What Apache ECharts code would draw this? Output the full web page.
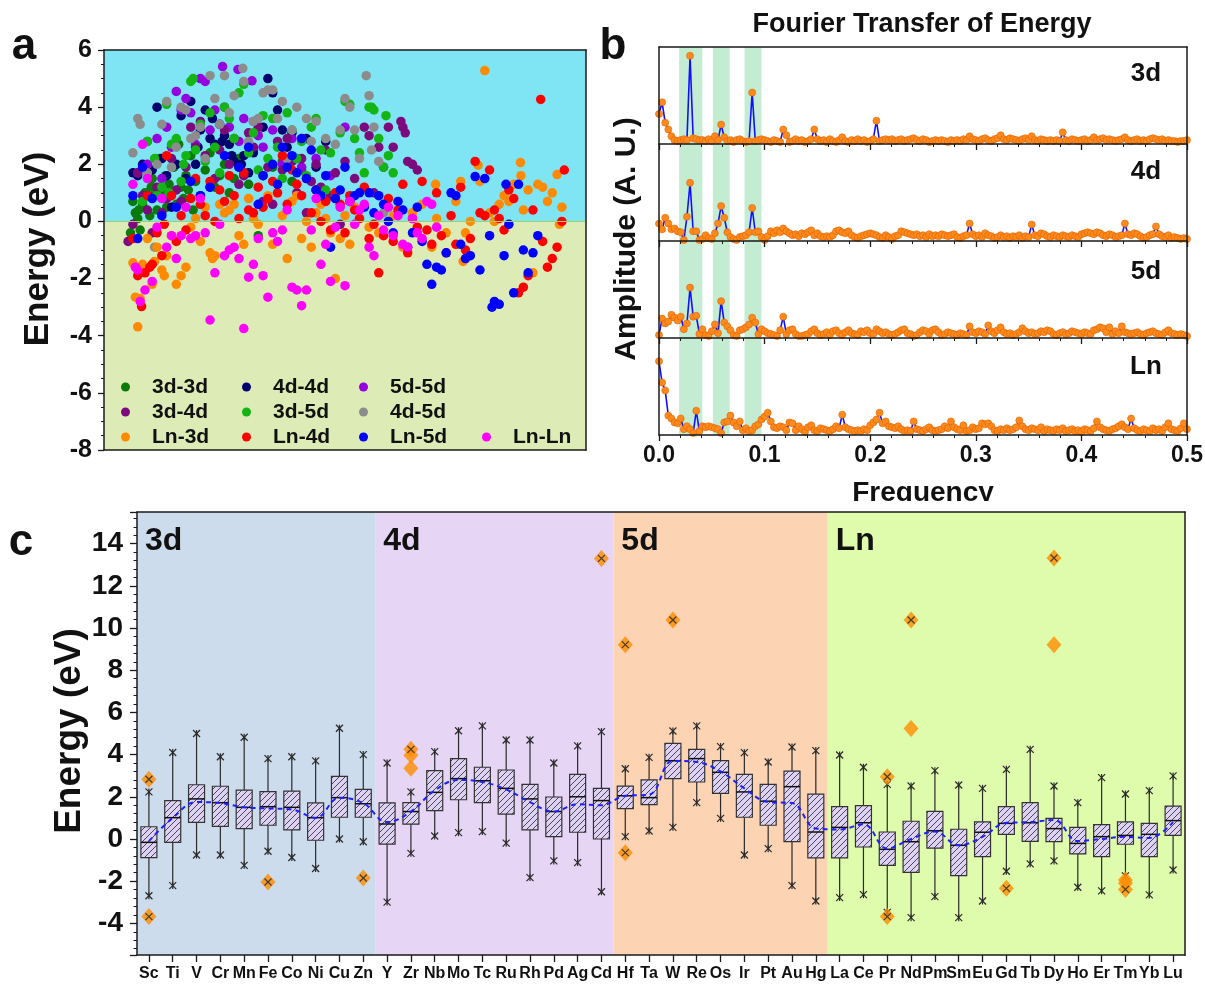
<!DOCTYPE html>
<html><head><meta charset="utf-8">
<script src="https://cdn.jsdelivr.net/npm/echarts@6/dist/echarts.min.js"></script>
<style>html,body{margin:0;padding:0;background:#fff}#c{width:1205px;height:987px}</style>
</head><body><div id="c"></div><script>
// ---------------- Panel a: scatter data (x = position index 0..100, y = energy eV) ----------------
const scatterNames = ['3d-3d','4d-4d','5d-5d','3d-4d','3d-5d','4d-5d','Ln-3d','Ln-4d','Ln-5d','Ln-Ln'];
const s3d3d = [[5.5,-0.4],[6,0.7],[6.5,0.3],[7,0.1],[7.5,-0.3],[8,0.6],[8.5,1.0],[9,2.8],[9.5,0.2],[10,1.5],[10.5,0.9],[11,0.4],[11.5,2.2],[12,1.1],[12.5,0.8],[13,0.5],[13.5,1.3],[14,1.0],[14.5,1.9],[15,0.6],[15.5,2.7],[16,1.2],[16.5,0.8],[17,1.6],[17.5,1.1],[18,2.3],[18.5,0.4],[19,1.4],[20,0.9],[21,1.8],[22,2.4],[23,1.2],[24,1.6],[25,2.0],[26,1.0],[27,1.5],[28,2.2],[29,1.7],[30,1.3],[31,2.5],[32,-0.5],[33,1.6],[35,1.9],[37,2.1],[39,1.4],[41,1.8],[44,1.1],[7.2,0.4],[9.8,1.2],[12.8,1.6]];
const s4d4d = [[6,1.7],[7,1.6],[8,2.0],[9,0.9],[10,1.8],[11,4.0],[12,2.2],[13,1.6],[14,0.5],[15,2.0],[16,3.7],[17,1.5],[18,4.2],[19,2.0],[20,3.2],[21,3.9],[22,2.9],[23,2.7],[24,3.4],[25,3.0],[26,2.7],[27,2.1],[28,1.9],[29,2.3],[30,1.7],[31,2.4],[33,3.3],[34,5.0],[35,4.5],[36,3.9],[37,3.2],[38,2.6],[39,3.1],[40,2.2],[42,2.9],[44,1.9],[46,2.8],[19.5,2.6],[22.5,3.6],[26.5,2.3],[28.5,2.0],[24.5,2.8]];
const s5d5d = [[7,1.7],[9,2.0],[11,2.9],[12,1.5],[13,3.3],[14,2.6],[15,4.55],[16,3.9],[17,4.3],[18,3.8],[19,2.7],[20,5.0],[21,4.9],[22,3.2],[23,3.9],[24.6,5.42],[25,4.0],[26,3.3],[27.8,5.32],[28,2.8],[29,3.6],[30.7,4.92],[31,3.5],[32,3.0],[33,2.6],[35,3.2],[37,2.0],[39,2.9],[41,1.9],[44,2.2],[47,1.6],[50,3.3]];
const s3d4d = [[5,-0.7],[6,-0.1],[7,1.7],[8,0.9],[9,0.4],[10,-0.4],[11,1.2],[12,0.3],[13,0.8],[14,2.2],[15,1.1],[16,0.7],[17,1.9],[18,3.3],[19,2.6],[20,3.5],[21,2.3],[22,1.2],[23,1.5],[24,2.5],[25,3.2],[26,2.0],[27,2.9],[28,1.3],[29,1.6],[30,3.1],[31,2.6],[32,3.3],[33,0.7],[34,1.9],[35,0.6],[36,2.8],[37,1.8],[38,2.9],[39,2.1],[40,1.0],[41,2.2],[42,0.3],[43,1.4],[44,2.0],[45,1.2],[46,2.5],[47,0.9],[48,1.7],[49,-0.1],[50,2.1],[52,1.5],[54,3.3],[55,3.0],[56,1.0],[57,2.6],[58,1.9],[59,3.3],[60,2.6],[61.6,3.5],[62,3.3],[62.5,3.1],[63,2.1],[64,2.0],[65,1.8]];
const s3d5d = [[8,0.7],[9,2.8],[10.5,2.2],[12,1.2],[13,4.1],[14,2.7],[15,2.9],[16,1.4],[17,2.3],[18,4.9],[18.5,5.0],[19,2.5],[20,3.4],[21,2.1],[22,3.8],[23,2.6],[24,1.7],[25,4.0],[26,3.6],[27,2.9],[28,4.5],[29,4.8],[30,2.4],[31,3.1],[32,1.8],[33,3.7],[34,2.2],[35,3.6],[36,2.6],[37,1.5],[38,3.8],[39,3.2],[40,2.2],[41,2.8],[42,1.6],[43,3.3],[44,3.6],[45,2.5],[46,1.1],[47,2.4],[48,0.9],[49,3.1],[50,4.2],[51,4.1],[52,2.9],[53,2.4],[54,1.7],[55,4.0],[55.5,4.0],[56,3.9],[57,2.9],[58,1.9],[58.5,3.7],[59,2.3],[60,1.7],[11,0.9],[13.5,1.0],[16.5,2.0]];
const s4d5d = [[6,2.4],[7,3.6],[7.5,3.4],[9,1.7],[10.5,-0.9],[11,2.0],[12,3.4],[13,4.2],[14,1.9],[15,2.6],[16,4.0],[17,3.9],[18,2.9],[19,3.0],[20,3.3],[21,2.2],[22,5.1],[23,4.3],[24,3.4],[25,5.1],[26,3.8],[27,4.4],[28.8,5.36],[29,4.9],[30,2.8],[31,3.5],[32,3.6],[33,4.5],[34,4.6],[35,4.6],[36,3.6],[37,4.2],[38,2.2],[39,3.2],[40,4.0],[41,2.9],[42,3.6],[43,2.8],[44,3.5],[46,2.9],[48,2.7],[49,3.2],[50,4.3],[51,4.0],[52,3.2],[53,2.2],[54.4,5.1],[55,4.4],[55.5,2.5],[56,3.3],[57,2.1],[58,0.3]];
const sLn3d = [[6,-1.45],[6.5,-2.65],[7,-3.69],[7.5,-2.7],[8,-1.5],[9,-0.6],[10,-2.2],[10.5,-1.4],[11,-0.9],[12,-1.7],[12.5,-1.9],[13,-1.2],[14,-0.5],[15,-2.2],[16,-1.9],[17,-1.6],[18,-0.2],[19,0.1],[20,-0.7],[21,0.5],[22,-1.1],[22.5,-1.3],[23,-1.2],[24,0.6],[25,0.3],[26,0.4],[27,0.6],[28,-0.5],[29,-0.8],[30,0.8],[31,0.1],[32,-0.1],[33,0.5],[34,0.9],[35,-0.8],[36,1.0],[37,0.2],[38,-1.3],[39,0.7],[40,0.9],[41,-0.6],[42,0.0],[43,-0.9],[44,0.3],[45,0.6],[46,0.1],[47,-0.4],[48,-2.0],[49,-0.6],[50,0.2],[51,-0.8],[52,0.5],[53,0.1],[55,-0.2],[57,-0.4],[60,0.2],[62,-0.9],[64,0.3],[66,0.6],[68,-0.9],[68.8,1.3],[69,0.1],[71,-0.4],[73,0.7],[74,1.4],[74.5,-1.4],[75,-0.4],[76,0.0],[77.6,1.97],[78,1.4],[79,5.28],[80,0.3],[81,0.0],[82,0.6],[83,0.9],[84,0.7],[85,1.3],[86.4,2.06],[86.5,1.6],[87,0.4],[88,1.1],[89,-1.8],[90,1.3],[91,1.2],[92,0.7],[93,1.0],[94,1.64],[94.5,-0.1],[95,0.5]];
const sLn4d = [[6,-0.6],[7,-1.9],[7.8,-2.98],[8.5,-1.8],[9,0.9],[9.5,-1.6],[10,-1.5],[11,-0.4],[12,-1.2],[12.5,-0.1],[13,2.3],[14,0.9],[15,-0.7],[16,0.2],[17,-0.3],[18,0.8],[19,1.5],[20,0.6],[21,0.2],[22,1.4],[23,0.0],[24,1.1],[25,0.7],[26,1.6],[27,0.9],[28,0.1],[29,1.7],[30,0.4],[31,0.3],[32,1.2],[33,0.5],[34,0.8],[35,1.4],[36,1.0],[37,2.3],[38,0.6],[39,1.8],[40,1.3],[41,0.9],[42,1.5],[43,0.3],[44,1.1],[45,0.0],[46,0.7],[47,-0.3],[48,1.0],[49,0.6],[50,-0.4],[51,0.9],[52,0.4],[53,0.1],[54,1.2],[55,-0.6],[56,-0.1],[57,-1.8],[58,-0.5],[59,0.8],[60,-0.7],[61,0.4],[62,1.3],[63,-1.1],[64,0.1],[65,-0.2],[66,1.4],[67,-0.3],[68,-0.8],[69,1.0],[70,-0.5],[71,-1.1],[72,0.2],[73,-0.8],[74,1.2],[75,-1.0],[76,-0.6],[77,2.1],[78,0.3],[79,0.2],[80,1.8],[81,0.4],[82,0.1],[83,-0.3],[84,1.1],[85,0.8],[86,-2.5],[87,-2.3],[88,-1.9],[89,0.4],[90.6,4.27],[91,-0.7],[92,-1.6],[93,-1.3],[94,-0.9],[95,0.0],[95.5,1.8]];
const sLn5d = [[6,0.9],[7,-0.6],[8,1.9],[10,0.8],[12,0.2],[15,0.5],[18,1.4],[20,0.9],[22,1.2],[25,2.3],[28,1.9],[30,2.6],[32,0.6],[33,1.6],[35,2.0],[36,1.3],[37,2.6],[38,1.9],[39,2.3],[40,1.7],[41,2.9],[42,1.5],[43,2.5],[44,1.1],[45,0.9],[46,1.6],[47,-0.9],[48,0.8],[49,1.1],[50,1.9],[51,0.7],[52,0.9],[53,1.0],[54,0.5],[55,1.0],[56,0.3],[57,0.9],[58,0.6],[59,0.0],[60,-0.4],[61,0.7],[62,0.4],[63,-0.9],[64,-0.4],[65,0.5],[66,-0.7],[67,-1.5],[68,-2.2],[69,-1.6],[70,-1.7],[71,-1.1],[72,1.0],[73,0.9],[74,-0.8],[75,-1.3],[76,-1.2],[77,1.57],[78,-1.7],[79,1.5],[80,-0.5],[80.5,-3.0],[81,-2.8],[82,-2.9],[83,-1.2],[83.4,1.3],[84,-0.1],[85,-2.5],[86,1.3],[87,-1.0],[88,-1.8],[89,-1.1],[90,-0.5]];
const sLnLn = [[6,1.3],[6.5,-1.6],[7,-1.7],[7.5,-2.8],[8,2.7],[8.5,-2.4],[9,1.5],[10,-2.1],[11,-0.2],[12,0.8],[13,-0.9],[14,-0.5],[15,-1.3],[16,-0.5],[17,0.5],[18,-0.6],[19,-0.5],[20,0.8],[21,-0.4],[22,-3.45],[23,-1.8],[24,-0.1],[25,-1.2],[26,-1.0],[27,-0.9],[28,-1.3],[29,-3.75],[30,-1.95],[31,-1.5],[32,-0.6],[33,-1.9],[34,-2.65],[35,-0.4],[36,-0.7],[37,-0.3],[38,0.4],[39,-2.3],[40,-2.4],[41,-2.95],[42,-2.4],[43,-0.3],[44,0.8],[45,-1.5],[46,-0.8],[47,-2.1],[48,-0.2],[49,0.5],[50,-2.25],[51,0.7],[52,-0.1],[53,0.4],[54,0.6],[55,-0.9],[56,-1.2],[57,0.2],[58,-0.3],[59,0.5],[60,-0.5],[61,0.2],[62,-0.8],[63,-0.9],[64,0.1],[65,-0.4],[66,-0.6],[67,0.7],[68,0.6],[69,-0.2]];
const scatterData = [s3d3d,s4d4d,s5d5d,s3d4d,s3d5d,s4d5d,sLn3d,sLn4d,sLn5d,sLnLn];

// ---------------- Panel b: Fourier amplitudes (A.U., % of panel height), frequency step 1/340 ----------------
const FREQ_STEP = 1/340;
const bLabels = ['3d','4d','5d','Ln'];
const bands = [[0.019,0.041],[0.051,0.067],[0.081,0.097]];
const amp3d = [31,43,22,15,8,4,3,4,5,4, 91,6,5,4,4,3,5,3,8,4, 20,7,3,4,2,4,5,3,2,3, 53,3,4,5,4,3,2,4,3,2, 15,9,2,3,5,3,4,2,3,5, 15,5,3,4,2,5,3,2,4,7, 3,2,4,3,5,3,4,2,3,5, 24,3,4,5,4,5,3,4,5,3, 4,5,6,4,3,5,4,2,3,4, 3,4,3,2,4,3,4,3,5,4, 8,5,4,3,5,6,4,3,5,6, 9,5,4,6,5,4,3,5,6,4, 8,4,3,5,4,3,4,3,4,3, 12,4,3,5,4,3,4,5,3,4, 7,4,5,6,4,5,4,3,4,5, 7,4,3,4,5,3,4,3,5,6, 5,4,5,3,4,3,3,2,3,3, 4];
const amp4d = [18,12,24,18,12,13,10,9,1,25, 60,10,10,1,2,6,3,2,8,18, 36,24,9,4,2,1,4,5,6,9, 34,9,10,4,1,5,10,8,11,9, 13,10,8,6,7,5,8,7,9,11, 6,8,5,4,5,4,6,10,11,9, 8,10,6,4,3,5,6,7,8,7, 6,4,3,6,4,2,5,6,10,9, 8,7,6,7,5,6,4,7,5,6, 5,7,6,5,6,7,4,3,5,6, 18,7,5,6,4,8,6,5,3,4, 6,4,5,3,5,4,6,3,5,4, 17,6,5,8,7,5,4,6,5,4, 6,5,4,6,5,4,7,8,9,8, 7,9,8,6,5,7,6,4,5,6, 18,7,6,8,7,5,3,4,6,7, 15,7,5,4,6,3,4,3,2,3, 2];
const amp5d = [3,20,15,17,24,21,18,22,9,15, 52,22,23,4,9,3,2,7,14,5, 38,16,12,8,3,2,8,9,11,14, 21,16,4,9,7,5,4,3,2,8, 22,4,8,9,4,2,2,3,4,7, 9,5,3,4,6,3,7,8,5,3, 6,8,5,4,3,7,6,8,5,4, 9,7,5,6,4,3,4,6,8,9, 5,4,2,3,6,8,7,4,8,9, 6,3,4,6,5,4,3,5,4,3, 12,6,5,7,6,4,13,7,5,8, 11,6,4,5,3,4,6,10,7,5, 6,4,5,7,6,8,7,4,3,5, 6,4,5,7,6,5,4,6,5,4, 8,9,11,10,6,11,4,7,5,12, 6,5,4,5,6,4,3,5,6,7, 5,4,3,6,8,5,4,3,4,3, 2];
const ampLn = [76,54,46,20,17,13,12,17,6,9, 6,2,25,4,9,8,9,8,7,6, 2,13,14,20,13,9,14,5,7,4, 5,9,11,16,19,23,14,8,7,9, 8,5,13,12,5,9,6,3,8,10, 5,4,7,6,5,4,6,9,7,21, 8,6,5,4,5,4,6,5,10,13, 16,23,12,14,9,8,7,9,6,4, 5,4,14,6,5,4,6,8,5,4, 5,6,9,7,14,8,6,5,10,4, 5,8,6,7,12,11,12,9,5,4, 6,5,7,5,6,8,15,9,6,5, 7,6,5,8,4,6,5,4,6,5, 7,4,5,6,4,5,3,6,5,4, 7,14,8,6,5,4,6,7,9,11, 8,6,17,7,5,4,6,5,4,7, 5,6,4,8,12,6,5,4,7,12, 6];
const ampArrays = [amp3d, amp4d, amp5d, ampLn];

// ---------------- Panel c: box statistics per element ----------------
const els = ['Sc','Ti','V','Cr','Mn','Fe','Co','Ni','Cu','Zn','Y','Zr','Nb','Mo','Tc','Ru','Rh','Pd','Ag','Cd','Hf','Ta','W','Re','Os','Ir','Pt','Au','Hg','La','Ce','Pr','Nd','Pm','Sm','Eu','Gd','Tb','Dy','Ho','Er','Tm','Yb','Lu'];
const groupNames = ['3d','4d','5d','Ln'];
const groupSizes = [10,10,9,15];
const boxMin = [-2.69,-2.21,-0.76,-0.76,-1.25,-0.58,-0.88,-1.4,0.0,-0.13, -2.99,-0.68,0.14,0.3,0.35,-0.2,-1.83,-1.04,-1.12,-2.5, 0.11,0.38,0.55,1.72,0.98,-0.76,-0.46,-2.21,-2.94, -2.78,-2.64,-3.48,-3.73,-2.73,-3.73,-2.94,-1.53,-1.18,-1.04,-2.29,-2.46,-1.75,-2.65,-1.47];
const boxQ1 = [-0.88,-0.16,0.79,0.6,0.49,0.65,0.43,-0.06,1.03,1.03, -0.24,0.7,1.34,1.86,1.72,1.18,0.43,0.11,0.32,0.0, 1.44,1.63,2.86,2.7,2.16,1.03,0.65,-0.13,-0.9, -0.9,-0.38,-1.25,-1.58,-0.43,-1.74,-0.84,0.22,-0.11,-0.13,-0.71,-0.84,-0.25,-0.84,0.17];
const boxMed = [-0.16,1.01,1.9,1.72,1.5,1.53,1.5,1.01,1.96,1.67, 0.71,1.3,2.21,2.86,2.76,2.4,1.9,1.3,2.0,1.82, 2.05,1.96,3.71,3.81,3.16,2.23,1.79,2.48,0.33, 0.55,0.77,-0.49,-0.13,0.39,-0.3,0.32,0.74,0.77,0.49,-0.21,0.11,0.17,0.22,0.87];
const boxQ3 = [0.58,1.82,2.57,2.5,2.32,2.24,2.27,1.71,2.97,2.35, 1.71,1.72,3.24,3.81,3.4,3.27,2.59,1.99,3.06,2.4, 2.51,2.8,4.53,4.25,3.71,3.06,2.59,3.22,2.13, 1.53,1.58,0.33,0.84,1.31,0.46,0.81,1.53,1.72,0.98,0.55,0.68,0.81,0.74,1.56];
const boxMax = [2.23,4.1,5.0,3.9,4.82,3.81,3.9,3.7,5.25,4.0, 3.6,2.23,4.14,5.13,5.36,4.69,4.69,3.6,4.41,5.09, 3.33,3.87,5.12,5.36,4.38,4.09,3.65,4.36,4.19, 3.98,3.4,2.59,2.51,3.24,2.56,2.4,3.3,4.25,2.51,1.72,2.91,2.13,2.29,2.99];
const boxMean = [-0.1,1.0,1.75,1.7,1.5,1.45,1.4,1.0,1.95,1.7, 0.8,1.3,2.3,2.8,2.7,2.35,1.75,1.3,1.65,1.6, 2.05,2.1,3.7,3.65,3.2,2.4,1.75,1.7,0.5, 0.45,0.7,-0.45,0.0,0.35,-0.3,0.1,0.77,0.8,0.9,-0.1,0.0,0.1,0.05,0.8];
// [element, energy, has cross mark]
const outliers = [['Sc',2.83,1],['Sc',-3.68,1],['Fe',-2.04,1],['Zn',-1.85,1],['Zr',4.25,1],['Zr',3.97,0],['Zr',3.35,0],['Cd',13.3,1],['Hf',9.21,1],['Hf',-0.65,1],['W',10.38,1],['Pr',2.95,1],['Pr',-3.68,1],['Nd',10.38,1],['Nd',5.24,0],['Gd',-2.34,1],['Dy',13.32,1],['Dy',9.21,0],['Tm',-1.94,0],['Tm',-2.1,0],['Tm',-2.39,1]];

// ---------------- Styles ----------------
const FONT = 'Liberation Sans, Arial, sans-serif';
const scatterColors = ['#0b7a0b','#00006e','#9400e0','#7d0a7d','#14b414','#8c8c8c','#ff8a00','#ff0000','#0000ff','#ff00ff'];
const regionColors = ['#ccdcec','#e6d5f5','#fcd4b4','#dffcad'];
const legendPos = [[121,376],[242,376],[359,376],[121,401],[242,401],[359,401],[121,426],[242,426],[359,426],[482,426]];

function hatch(){
  const c = document.createElement('canvas'); c.width = 6; c.height = 6;
  const g = c.getContext('2d');
  g.fillStyle = '#ddd3f1'; g.fillRect(0,0,6,6);
  g.strokeStyle = '#4a4262'; g.lineWidth = 1;
  g.beginPath(); g.moveTo(0,6); g.lineTo(6,0); g.moveTo(-1,1); g.lineTo(1,-1); g.moveTo(5,7); g.lineTo(7,5); g.stroke();
  return c;
}
const hatchPattern = {image: hatch(), repeat: 'repeat'};

const chart = echarts.init(document.getElementById('c'), null, {renderer:'canvas', width:1205, height:987});

const lineOnlyAxis = (extra) => Object.assign({
  axisLine:{show:true, onZero:false, lineStyle:{color:'#1a1a1a', width:1.5}},
  axisTick:{show:false}, axisLabel:{show:false}, splitLine:{show:false}, z:5
}, extra);

const xAxes = [
  lineOnlyAxis({gridIndex:0, type:'value', min:0, max:100, position:'bottom'}),
  lineOnlyAxis({gridIndex:0, type:'value', min:0, max:100, position:'top'})
];
for (let k=0;k<4;k++){
  xAxes.push({gridIndex:1+k, type:'value', min:0, max:0.5, interval:0.1, position:'bottom', z:5,
    axisLine:{show:true, onZero:false, lineStyle:{color:'#1a1a1a', width:1.5}},
    axisTick:{show:true, inside:false, length:6, lineStyle:{color:'#1a1a1a', width:1.3}},
    minorTick:{show:true, splitNumber:5, length:3, lineStyle:{color:'#1a1a1a', width:1}},
    splitLine:{show:false},
    axisLabel:{show:k===3, fontSize:23, fontWeight:'bold', fontFamily:FONT, color:'#111', margin:9, formatter:v=>v.toFixed(1)}});
}
xAxes.push(lineOnlyAxis({gridIndex:1, type:'value', min:0, max:0.5, position:'top'}));
xAxes.push({gridIndex:5, type:'category', data:els, position:'bottom', boundaryGap:true, z:5,
  axisLine:{show:true, onZero:false, lineStyle:{color:'#1a1a1a', width:1.5}},
  axisTick:{show:true, alignWithLabel:true, length:7, lineStyle:{color:'#1a1a1a', width:1.3}},
  axisLabel:{interval:0, fontSize:16, fontWeight:'bold', fontFamily:FONT, color:'#111', margin:11}, splitLine:{show:false}});
xAxes.push(lineOnlyAxis({gridIndex:5, type:'value', min:-0.5, max:els.length-0.5, position:'top'}));

const yAxes = [
  {gridIndex:0, type:'value', min:-8, max:6, interval:2, position:'left', z:5,
    axisLine:{show:true, onZero:false, lineStyle:{color:'#1a1a1a', width:1.5}},
    axisTick:{show:true, length:6, lineStyle:{color:'#1a1a1a', width:1.3}},
    minorTick:{show:true, splitNumber:4, length:3, lineStyle:{color:'#1a1a1a'}},
    splitLine:{show:false},
    axisLabel:{fontSize:25, fontWeight:'bold', fontFamily:FONT, color:'#111', margin:12}},
  lineOnlyAxis({gridIndex:0, type:'value', min:0, max:1, position:'right'})
];
for (let k=0;k<4;k++) yAxes.push(lineOnlyAxis({gridIndex:1+k, type:'value', min:0, max:100, position:'left'}));
for (let k=0;k<4;k++) yAxes.push(lineOnlyAxis({gridIndex:1+k, type:'value', min:0, max:1, position:'right'}));
yAxes.push({gridIndex:5, type:'value', min:-5.5, max:15.5, splitNumber:10, position:'left', z:5,
  axisLine:{show:true, onZero:false, lineStyle:{color:'#1a1a1a', width:1.5}},
  axisTick:{show:true, length:7, lineStyle:{color:'#1a1a1a', width:1.3}},
  minorTick:{show:true, splitNumber:5, length:3.5, lineStyle:{color:'#1a1a1a'}},
  splitLine:{show:false},
  axisLabel:{fontSize:28, fontWeight:'bold', fontFamily:FONT, color:'#111', margin:14, showMinLabel:false, showMaxLabel:false,
    formatter: v => (Math.abs(v % 2) < 1e-9 ? String(v) : '')}});
yAxes.push(lineOnlyAxis({gridIndex:5, type:'value', min:0, max:1, position:'right'}));

const series = [];
// panel a backgrounds
series.push({type:'scatter', xAxisIndex:0, yAxisIndex:0, data:[], silent:true,
  markArea:{silent:true, data:[[{yAxis:0, itemStyle:{color:'#7fe5f5'}},{yAxis:6}],[{yAxis:-8, itemStyle:{color:'#ddecb6'}},{yAxis:0}]]},
  markLine:{silent:true, symbol:'none', label:{show:false}, lineStyle:{color:'#9fd36a', width:1, type:'solid'}, data:[{yAxis:0}]}});
scatterNames.forEach((n,i)=>{
  series.push({type:'scatter', name:n, xAxisIndex:0, yAxisIndex:0, data:scatterData[i], symbol:'circle', symbolSize:9.5,
    itemStyle:{color:scatterColors[i], opacity:1}});
});
// panel b
ampArrays.forEach((arr,k)=>{
  series.push({type:'line', xAxisIndex:2+k, yAxisIndex:2+k, data:arr.map((v,i)=>[i*FREQ_STEP, v]),
    symbol:'circle', symbolSize:7, showAllSymbol:true, clip:false,
    itemStyle:{color:'#ff8a1c', borderColor:'#e06200', borderWidth:0.6},
    lineStyle:{color:'#1010ff', width:1.6},
    markArea:{silent:true, itemStyle:{color:'#c3ecd3'}, data:bands.map(b=>[{xAxis:b[0]},{xAxis:b[1]}])}});
});
// panel c regions
let start = -0.5;
const regionData = groupNames.map((g,k)=>{ const a=start, b=start+groupSizes[k]; start=b;
  return [{name:g, xAxis:a, itemStyle:{color:regionColors[k]}},{xAxis:b}]; });
series.push({type:'scatter', xAxisIndex:8, yAxisIndex:10, data:[], silent:true,
  markArea:{silent:true, data:regionData,
    label:{show:true, position:'insideTopLeft', formatter:p=>p.name, color:'#111', fontSize:32, fontWeight:'bold', fontFamily:FONT, offset:[3,8]}}});
// boxes
series.push({type:'custom', xAxisIndex:7, yAxisIndex:10, z:3,
  data: els.map((e,i)=>[i, boxMin[i], boxQ1[i], boxMed[i], boxQ3[i], boxMax[i]]),
  encode:{x:0, y:[1,2,3,4,5]},
  renderItem:(params, api)=>{
    const i = api.value(0);
    const c = v => api.coord([i, v]);
    const pMin=c(api.value(1)), pQ1=c(api.value(2)), pMed=c(api.value(3)), pQ3=c(api.value(4)), pMax=c(api.value(5));
    const x = pMin[0], hw = 8, s = 3.5;
    const ls = {stroke:'#2a2a2a', lineWidth:1.2};
    const star = y => [
      {type:'line', shape:{x1:x-s,y1:y-s,x2:x+s,y2:y+s}, style:ls},
      {type:'line', shape:{x1:x-s,y1:y+s,x2:x+s,y2:y-s}, style:ls},
      {type:'line', shape:{x1:x,y1:y-s,x2:x,y2:y+s}, style:ls}];
    return {type:'group', children:[
      {type:'line', shape:{x1:x,y1:pMax[1],x2:x,y2:pQ3[1]}, style:ls},
      {type:'line', shape:{x1:x,y1:pQ1[1],x2:x,y2:pMin[1]}, style:ls},
      {type:'rect', shape:{x:x-hw, y:pQ3[1], width:2*hw, height:pQ1[1]-pQ3[1]}, style:{fill:hatchPattern, stroke:'#333', lineWidth:1.2}},
      {type:'line', shape:{x1:x-hw,y1:pMed[1],x2:x+hw,y2:pMed[1]}, style:{stroke:'#111', lineWidth:1.5}}
    ].concat(star(pMin[1]), star(pMax[1]))};
  }});
series.push({type:'line', xAxisIndex:7, yAxisIndex:10, data:boxMean, smooth:0.4, symbol:'none', z:4,
  lineStyle:{color:'#1e1eff', width:2, type:[5,4]}});
series.push({type:'scatter', xAxisIndex:7, yAxisIndex:10, z:5, data:outliers.map(o=>[els.indexOf(o[0]), o[1]]),
  symbol:'diamond', symbolSize:[15,17], itemStyle:{color:'#ff8c00'}});
series.push({type:'scatter', xAxisIndex:7, yAxisIndex:10, z:6, data:outliers.filter(o=>o[2]).map(o=>[els.indexOf(o[0]), o[1]]),
  symbol:'path://M0,0L10,10M10,0L0,10', symbolSize:7, itemStyle:{color:'none', borderColor:'#222', borderWidth:1.2}});

const legends = scatterNames.map((n,i)=>({data:[n], left:legendPos[i][0], top:legendPos[i][1], padding:0, orient:'horizontal',
  icon:'circle', itemWidth:9, itemHeight:9, selectedMode:false,
  textStyle:{fontSize:21, fontWeight:'bold', fontFamily:FONT, color:'#111', lineHeight:22, padding:[0,0,0,17]}}));

const txt = (text, x, y, size, extra) => Object.assign({type:'text', x:x, y:y, z:50,
  style:{text:text, fontSize:size, fontWeight:'bold', fontFamily:FONT, fill:'#111', align:'center', verticalAlign:'middle', textAlign:'center', textVerticalAlign:'middle'}}, extra||{});

const graphic = [
  txt('a', 24, 47, 44), txt('b', 613, 47, 44), txt('c', 21, 543, 44),
  txt('Energy (eV)', 38, 249, 35, {rotation:Math.PI/2}),
  txt('Amplitude (A. U.)', 627, 239, 30, {rotation:Math.PI/2}),
  txt('Fourier Transfer of Energy', 922, 25, 27),
  txt('Frequency', 923, 493, 28),
  {type:'rect', z:60, shape:{x:830, y:501, width:190, height:10}, style:{fill:'#fff'}},
  txt('Energy (eV)', 70, 731, 37, {rotation:Math.PI/2})
];
bLabels.forEach((l,k)=>{ graphic.push(txt(l, 1146, [74,172,272,367][k], 26)); });

chart.setOption({
  animation:false, backgroundColor:'#fff',
  grid:[
    {left:104, top:50, width:482, height:400, outerBoundsMode:'none'},
    {left:659, top:47, width:528, height:97, outerBoundsMode:'none'},
    {left:659, top:144, width:528, height:97, outerBoundsMode:'none'},
    {left:659, top:241, width:528, height:97, outerBoundsMode:'none'},
    {left:659, top:338, width:528, height:97, outerBoundsMode:'none'},
    {left:137, top:512, width:1048, height:443, outerBoundsMode:'none'}
  ],
  xAxis:xAxes, yAxis:yAxes, legend:legends, series:series, graphic:graphic
});
</script></body></html>
